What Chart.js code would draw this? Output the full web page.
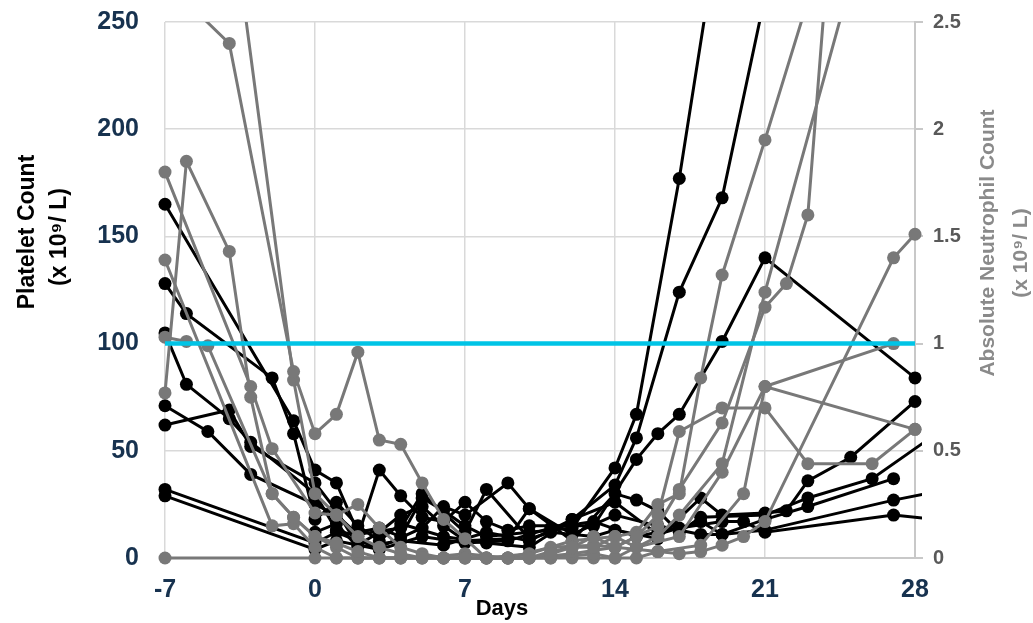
<!DOCTYPE html>
<html>
<head>
<meta charset="utf-8">
<script src="https://cdn.jsdelivr.net/npm/chart.js@4.4.1/dist/chart.umd.min.js"></script>
<style>
  html, body { margin: 0; padding: 0; background: #ffffff; }
  #chart { display: block; }
</style>
</head>
<body>
<canvas id="chart" width="1033" height="623"></canvas>
<script>
// x axis (days) and ticks
const dayTicks = [-7, 0, 7, 14, 21, 28];
const plateletTicks = [0, 50, 100, 150, 200, 250];
const ancTicks = [0, 0.5, 1, 1.5, 2, 2.5];
const thresholdLine = [[-7, 100], [28, 100]];

// platelet count per patient, [day, x10^9/L]
const plt1 = [[-7,165],[-1,64],[0,41],[1,35],[2,12],[3,14],[4,10],[5,28],[6,22],[7,15],[8,10],[10,12],[12,14],[14,42],[15,67],[17,177],[19,304]];
const plt2 = [[-7,128],[-6,114],[-2,84],[-1,58],[0,18],[1,26],[2,15],[3,8],[4,16],[6,10],[8,7],[10,5],[12,18],[14,34],[15,56],[17,124],[19,168],[21,262]];
const plt3 = [[-7,105],[-6,81],[-4,65],[-3,54],[0,30],[1,13],[2,10],[3,41],[4,29],[5,19],[6,17],[7,26],[8,17],[9,13],[10,15],[13,15],[15,46],[16,58],[17,67],[19,101],[21,140],[28,84]];
const plt4 = [[-7,71],[-5,59],[-3,39],[0,25],[1,20],[2,11],[4,14],[5,30],[7,12],[8,32],[10,9],[11,12],[13,10],[14,13],[16,9],[18,28],[19,20],[21,21],[22,22],[23,36],[25,47],[28,73]];
const plt5 = [[-7,62],[-4,69],[-3,52],[0,35],[1,22],[2,6],[3,12],[4,20],[5,24],[6,15],[7,8],[9,9],[10,23],[12,8],[14,30],[15,27],[16,22],[17,12],[18,19],[21,20],[23,28],[26,37],[29,58]];
const plt6 = [[-7,32],[0,7],[1,12],[2,8],[3,5],[5,14],[6,24],[7,20],[9,35],[10,23],[12,11],[14,20],[16,15],[18,11],[19,11],[21,13],[27,27],[29,31]];
const plt7 = [[-7,29],[0,4],[1,8],[3,4],[5,10],[7,7],[9,8],[11,14],[13,17],[15,10],[17,14],[19,17],[20,17],[21,12],[27,20],[29,18]];
const plt8 = [[0,12],[1,16],[2,5],[4,8],[6,6],[8,12],[10,8],[12,18],[14,26],[16,11],[18,17],[19,11],[21,18],[23,24],[27,37]];

// absolute neutrophil count per patient, [day, x10^9/L]
const anc1 = [[-7,2.69],[-4,2.4],[-1,0.87],[0,0.58],[1,0.67],[2,0.96],[3,0.55],[4,0.53],[5,0.35],[6,0.18],[7,0.09],[8,0],[9,0],[10,0],[11,0.02],[12,0.05],[13,0.1],[14,0.05],[15,0.1],[16,0.2],[17,0.59],[19,0.7],[21,0.7],[23,0.44],[26,0.44],[28,0.6]];
const anc2 = [[-4,3.1],[-1,0.83],[0,0.3],[1,0.2],[2,0.1],[3,0.05],[4,0.02],[5,0],[6,0],[7,0],[8,0],[9,0],[10,0],[11,0.03],[12,0.05],[13,0.05],[14,0.1],[15,0.12],[16,0.25],[17,0.3],[18,0.84],[19,1.32],[21,1.95],[23,2.6]];
const anc3 = [[-7,0.77],[-6,1.85],[-4,1.43],[-3,0.75],[-2,0.3],[-1,0.19],[0,0.1],[1,0.07],[2,0.03],[3,0],[4,0],[6,0],[8,0],[10,0.02],[12,0.08],[14,0.1],[15,0.05],[16,0.1],[17,0.2],[19,0.44],[21,1.24],[25,2.69]];
const anc4 = [[-7,1.8],[-3,0.8],[-2,0.51],[0,0.21],[1,0.2],[2,0.25],[3,0.14],[4,0.05],[5,0.02],[6,0],[7,0],[9,0],[11,0],[13,0.02],[14,0],[15,0.05],[17,0.1],[19,0.4],[21,0.8],[28,0.6]];
const anc5 = [[-7,1.39],[-2,0.15],[-1,0.16],[0,0.05],[1,0],[2,0],[3,0],[5,0],[7,0.02],[9,0],[11,0.05],[13,0.06],[14,0.05],[16,0.15],[17,0.32],[19,0.63],[21,1.17],[22,1.28],[23,1.6],[24,2.87]];
const anc6 = [[-7,1.03],[-6,1.01],[-5,0.99],[-2,0.3],[-1,0.19],[0,0.1],[1,0.05],[2,0],[4,0],[6,0],[8,0],[10,0],[12,0.02],[14,0.05],[16,0.03],[18,0.06],[20,0.3],[21,0.8],[27,1.0]];
const anc7 = [[-7,0],[0,0],[1,0],[2,0],[3,0],[4,0],[5,0],[6,0],[7,0],[8,0],[9,0],[10,0],[11,0],[12,0],[13,0],[14,0],[15,0],[16,0.03],[17,0.02],[18,0.03],[19,0.06],[20,0.1],[21,0.17],[27,1.4],[28,1.51],[29,1.62]];

const BLACK = '#000000';
const GREY = '#787878';
const CYAN = '#00c4e6';
const NAVY = '#17324f';
const FONT = '"Liberation Sans", Arial, sans-serif';

function series(points, color, axis) {
    return {
        data: points.map(p => ({ x: p[0], y: p[1] })),
        yAxisID: axis,
        borderColor: color,
        backgroundColor: color,
        pointBackgroundColor: color,
        pointBorderWidth: 0,
        pointRadius: 6.5,
        borderWidth: 3,
        tension: 0,
        clip: { left: 8, right: 7, top: 0, bottom: 8 }
    };
}

// first dataset is drawn on top
const datasets = [
    {
        data: thresholdLine.map(p => ({ x: p[0], y: p[1] })),
        yAxisID: 'y',
        borderColor: CYAN,
        borderWidth: 4.5,
        pointRadius: 0,
        clip: 0
    },
    ...[anc1, anc2, anc3, anc4, anc5, anc6, anc7].map(a => series(a, GREY, 'yR')),
    ...[plt1, plt2, plt3, plt4, plt5, plt6, plt7, plt8].map(a => series(a, BLACK, 'y'))
];

// axis titles drawn by hand so they sit where the original has them
const axisTitles = {
    id: 'axisTitles',
    afterDraw(chart) {
        const ctx = chart.ctx;
        ctx.save();
        ctx.textAlign = 'center';
        ctx.textBaseline = 'middle';

        ctx.fillStyle = '#000000';
        ctx.font = 'bold 22px ' + FONT;
        ctx.fillText('Days', 502, 609);

        ctx.font = 'bold 23px ' + FONT;
        ctx.translate(28, 232);
        ctx.rotate(-Math.PI / 2);
        ctx.fillText('Platelet Count', 0, 0);
        ctx.fillText('(x 10\u2079/ L)', -5, 32);
        ctx.restore();

        ctx.save();
        ctx.textAlign = 'center';
        ctx.textBaseline = 'middle';
        ctx.fillStyle = '#8a8a8a';
        ctx.font = 'bold 21px ' + FONT;
        ctx.translate(988, 243);
        ctx.rotate(-Math.PI / 2);
        ctx.fillText('Absolute Neutrophil Count', 0, 0);
        ctx.fillText('(x 10\u2079/ L)', -10, 33);
        ctx.restore();
    }
};

// tick padding would otherwise push the plot area down
function fixVertical(width) {
    return s => { s.width = width; s.paddingTop = 0; s.paddingBottom = 0; };
}

new Chart(document.getElementById('chart'), {
    type: 'line',
    data: { datasets: datasets },
    options: {
        responsive: false,
        animation: false,
        devicePixelRatio: 1,
        layout: { padding: { top: 22, left: 0, right: 0, bottom: 0 } },
        plugins: { legend: { display: false }, tooltip: { enabled: false } },
        scales: {
            x: {
                type: 'linear',
                min: dayTicks[0],
                max: dayTicks[dayTicks.length - 1],
                afterBuildTicks: s => { s.ticks = dayTicks.map(v => ({ value: v })); },
                afterFit: s => { s.height = 65; s.paddingLeft = 0; s.paddingRight = 0; },
                grid: { color: '#d9d9d9', lineWidth: 1.5, drawTicks: false },
                border: { display: true, color: '#c8c8c8', width: 2 },
                ticks: { color: NAVY, font: { family: FONT, size: 25, weight: 'bold' }, padding: 17 }
            },
            y: {
                position: 'left',
                min: plateletTicks[0],
                max: plateletTicks[plateletTicks.length - 1],
                afterBuildTicks: s => { s.ticks = plateletTicks.map(v => ({ value: v })); },
                afterFit: fixVertical(165),
                grid: { color: '#d9d9d9', lineWidth: 1.5, drawTicks: false },
                border: { display: false },
                ticks: { color: NAVY, font: { family: FONT, size: 25, weight: 'bold' }, padding: 26 }
            },
            yR: {
                position: 'right',
                min: ancTicks[0],
                max: ancTicks[ancTicks.length - 1],
                afterBuildTicks: s => { s.ticks = ancTicks.map(v => ({ value: v })); },
                afterFit: fixVertical(118),
                grid: { drawOnChartArea: false, drawTicks: true, tickLength: 8, color: '#c8c8c8', lineWidth: 2 },
                border: { display: true, color: '#c8c8c8', width: 2 },
                ticks: {
                    color: '#595959',
                    font: { family: FONT, size: 20, weight: 'bold' },
                    padding: 10,
                    callback: v => String(v)
                }
            }
        }
    },
    plugins: [axisTitles]
});
</script>
</body>
</html>
